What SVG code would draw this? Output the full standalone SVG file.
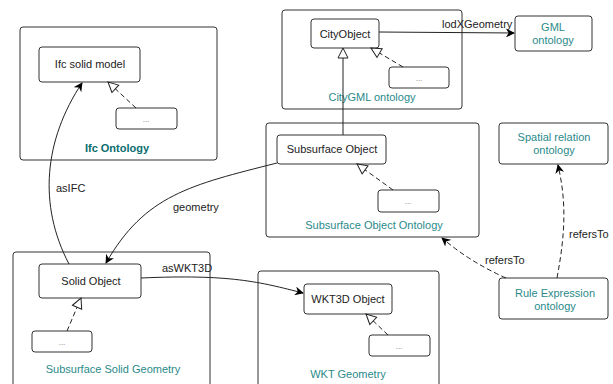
<svg xmlns="http://www.w3.org/2000/svg" width="613" height="384" viewBox="0 0 613 384">
<style>
.c{fill:#fff;stroke:#333;stroke-width:1}
.n{fill:#fff;stroke:#333;stroke-width:1}
.t{font-family:"Liberation Sans",Arial,sans-serif;font-size:11px;fill:#222;text-anchor:middle}
.tl{font-family:"Liberation Sans",Arial,sans-serif;font-size:11px;fill:#222}
.teal{font-family:"Liberation Sans",Arial,sans-serif;font-size:11px;fill:#2a8a8a;text-anchor:middle}
.tb{font-family:"Liberation Sans",Arial,sans-serif;font-size:11px;font-weight:bold;fill:#0a6e6e;text-anchor:middle}
.dots{font-family:"Liberation Sans",Arial,sans-serif;font-size:8px;fill:#777;text-anchor:middle}
.e{fill:none;stroke:#222;stroke-width:1}
.d{fill:none;stroke:#222;stroke-width:1;stroke-dasharray:5,3}
</style>
<defs>
<marker id="arr" viewBox="0 0 10 10" refX="9" refY="5" markerWidth="9" markerHeight="9" markerUnits="userSpaceOnUse" orient="auto">
<path d="M0,0 L10,5 L0,10 L3,5 Z" fill="#000"/>
</marker>
<marker id="tri" viewBox="0 0 12 12" refX="11" refY="6" markerWidth="12" markerHeight="12" markerUnits="userSpaceOnUse" orient="auto">
<path d="M1,1 L11,6 L1,11 Z" fill="#fff" stroke="#222" stroke-width="1"/>
</marker>
</defs>

<g id="ifc-ontology">
<rect class="c" x="20" y="27" width="197" height="133" rx="3"/>
<text class="tb" x="117" y="152">Ifc Ontology</text>
</g>
<g id="ifc-solid-model">
<rect class="n" x="39" y="47" width="101" height="35" rx="3"/>
<text class="t" x="90" y="68">Ifc solid model</text>
</g>
<g id="ifc-dots">
<rect class="n" x="116" y="108" width="61" height="21" rx="3"/>
<text class="dots" x="146" y="122">...</text>
</g>

<g id="citygml-ontology">
<rect class="c" x="282" y="10" width="180" height="99" rx="3"/>
<text class="teal" x="372" y="101">CityGML ontology</text>
</g>
<g id="cityobject">
<rect class="n" x="311" y="19" width="68" height="29" rx="3"/>
<text class="t" x="345" y="38">CityObject</text>
</g>
<g id="city-dots">
<rect class="n" x="389" y="67" width="60" height="21" rx="3"/>
<text class="dots" x="419" y="81">...</text>
</g>

<g id="gml-ontology">
<rect class="n" x="515" y="16" width="77" height="35" rx="3"/>
<text class="teal" x="553" y="31">GML</text>
<text class="teal" x="553" y="44">ontology</text>
</g>

<g id="subsurface-object-ontology">
<rect class="c" x="266" y="123" width="213" height="114" rx="3"/>
<text class="teal" x="374" y="229">Subsurface Object Ontology</text>
</g>
<g id="subsurface-object">
<rect class="n" x="277" y="135" width="109" height="29" rx="3"/>
<text class="t" x="332" y="153">Subsurface Object</text>
</g>
<g id="sub-dots">
<rect class="n" x="378" y="190" width="61" height="22" rx="3"/>
<text class="dots" x="408" y="204">...</text>
</g>

<g id="spatial-relation-ontology">
<rect class="n" x="499" y="123" width="109" height="41" rx="3"/>
<text class="teal" x="554" y="141">Spatial relation</text>
<text class="teal" x="554" y="154">ontology</text>
</g>

<g id="rule-expression-ontology">
<rect class="n" x="499" y="278" width="109" height="41" rx="3"/>
<text class="teal" x="555" y="297">Rule Expression</text>
<text class="teal" x="555" y="310">ontology</text>
</g>

<g id="subsurface-solid-geometry">
<rect class="c" x="13" y="252" width="197" height="135" rx="3"/>
<text class="teal" x="113" y="373">Subsurface Solid Geometry</text>
</g>
<g id="solid-object">
<rect class="n" x="39" y="264" width="102" height="34" rx="3"/>
<text class="t" x="91" y="285">Solid Object</text>
</g>
<g id="solid-dots">
<rect class="n" x="32" y="331" width="60" height="21" rx="3"/>
<text class="dots" x="62" y="345">...</text>
</g>

<g id="wkt-geometry">
<rect class="c" x="258" y="271" width="181" height="116" rx="3"/>
<text class="teal" x="348" y="378">WKT Geometry</text>
</g>
<g id="wkt3d-object">
<rect class="n" x="304" y="284" width="88" height="30" rx="3"/>
<text class="t" x="348" y="303">WKT3D Object</text>
</g>
<g id="wkt-dots">
<rect class="n" x="369" y="335" width="61" height="21" rx="3"/>
<text class="dots" x="399" y="349">...</text>
</g>

<g id="connectors">
<path class="d" d="M136,108 L108,82" marker-end="url(#tri)"/>
<path class="d" d="M403,67 L371,48" marker-end="url(#tri)"/>
<path class="e" d="M343,135 L343,48" marker-end="url(#tri)"/>
<path class="d" d="M393,190 L357,164" marker-end="url(#tri)"/>
<path class="d" d="M67,331 L81,298" marker-end="url(#tri)"/>
<path class="d" d="M388,335 L366,314" marker-end="url(#tri)"/>
<path class="e" d="M379,32 L514,33" marker-end="url(#arr)"/>
<path class="e" d="M69,264 C38,205 44,140 82,83" marker-end="url(#arr)"/>
<path class="e" d="M277,163 C190,185 145,195 106,263" marker-end="url(#arr)"/>
<path class="e" d="M141,278 C230,274 260,282 303,293" marker-end="url(#arr)"/>
<path class="d" d="M506,278 Q470,262 442,238" marker-end="url(#arr)"/>
<path class="d" d="M557,278 C566,230 566,200 558,165" marker-end="url(#arr)"/>
<text class="tl" x="56" y="192">asIFC</text>
<text class="tl" x="173" y="211">geometry</text>
<text class="tl" x="162" y="272">asWKT3D</text>
<text class="tl" x="442" y="28">lodXGeometry</text>
<text class="tl" x="485" y="264">refersTo</text>
<text class="tl" x="569" y="238">refersTo</text>
</g>
</svg>
